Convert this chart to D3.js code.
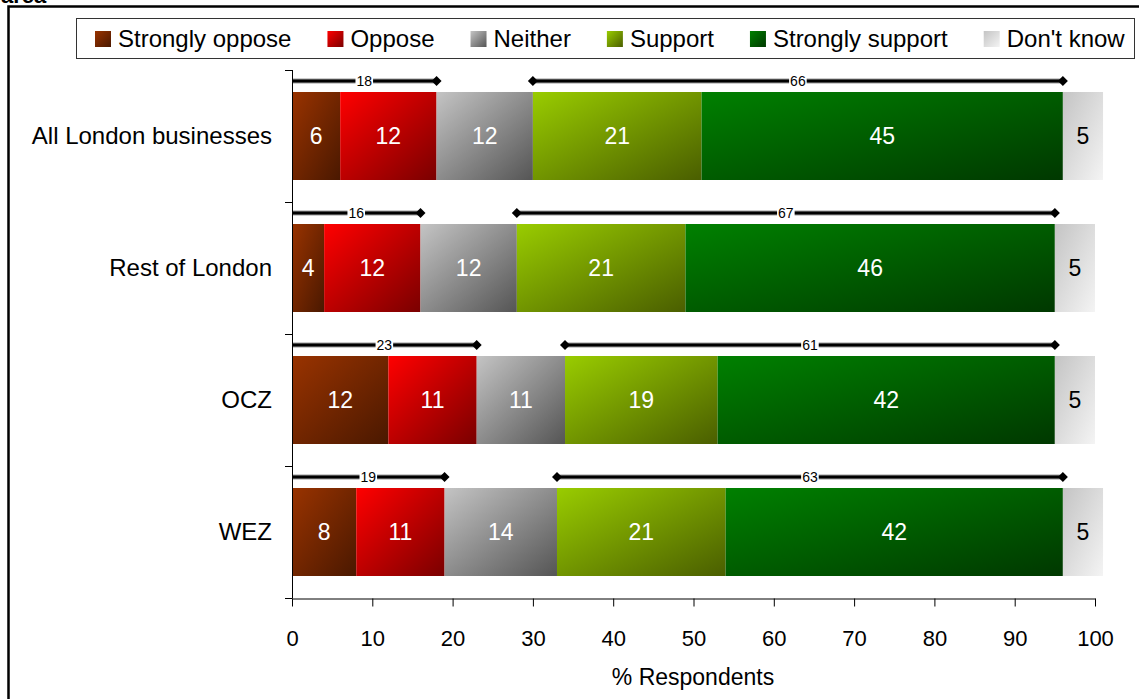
<!DOCTYPE html>
<html>
<head>
<meta charset="utf-8">
<script src="https://cdn.jsdelivr.net/npm/d3@7"></script>
<style>
  html, body { margin: 0; padding: 0; background: #fff; }
  svg { display: block; font-family: Arial, "Liberation Sans", sans-serif; }
</style>
</head>
<body>
<svg id="chart" width="1139" height="699"></svg>
<script>
// Categories (rows), top to bottom
const categories = ["All London businesses", "Rest of London", "OCZ", "WEZ"];
const seriesNames = ["Strongly oppose", "Oppose", "Neither", "Support", "Strongly support", "Don't know"];

// Percent of respondents per answer, one value per category
const stronglyOppose  = [6, 4, 12, 8];
const oppose          = [12, 12, 11, 11];
const neither         = [12, 12, 11, 14];
const support         = [21, 21, 19, 21];
const stronglySupport = [45, 46, 42, 42];
const dontKnow        = [5, 5, 5, 5];

// Net oppose / net support totals shown above each bar
const opposeTotals  = [18, 16, 23, 19];
const supportTotals = [66, 67, 61, 63];

const xTicks = [0, 10, 20, 30, 40, 50, 60, 70, 80, 90, 100];

const seriesValues = [stronglyOppose, oppose, neither, support, stronglySupport, dontKnow];
// Diagonal gradients: light top-left to dark bottom-right
const gradStops = [
  ["#993300", "#4a1800"],
  ["#ff0000", "#7a0000"],
  ["#c4c4c4", "#555555"],
  ["#99cc00", "#4a5e00"],
  ["#008000", "#003800"],
  ["#c4c4c4", "#f4f4f4"]
];
const labelColors = ["#fff", "#fff", "#fff", "#fff", "#fff", "#000"];

const svg = d3.select("#chart");
const defs = svg.append("defs");
gradStops.forEach((c, i) => {
  const g = defs.append("linearGradient").attr("id", "grad" + i)
    .attr("x1", 0).attr("y1", 0).attr("x2", 1).attr("y2", 1);
  g.append("stop").attr("offset", "0%").attr("stop-color", c[0]);
  g.append("stop").attr("offset", "100%").attr("stop-color", c[1]);
});

// Title line running off the top edge, and outer frame
svg.append("text").attr("x", 1).attr("y", 3)
  .attr("font-size", 22).attr("font-weight", "bold").attr("fill", "#000").text("area");
svg.append("rect").attr("x", 8.5).attr("y", 6.5).attr("width", 1150).attr("height", 720)
  .attr("fill", "none").attr("stroke", "#000").attr("stroke-width", 2.5);

// Scales
const x = d3.scaleLinear().domain([0, 100]).range([292, 1095]);
const y = d3.scaleBand().domain(categories).range([70, 598])
  .paddingInner(1 / 3).paddingOuter(1 / 6);

// Legend
const legend = svg.append("g");
legend.append("rect").attr("x", 76.5).attr("y", 18.5).attr("width", 1058).attr("height", 40)
  .attr("fill", "#fff").attr("stroke", "#333").attr("stroke-width", 1);
let lx = 95;
seriesNames.forEach((name, i) => {
  legend.append("rect").attr("x", lx).attr("y", 31).attr("width", 16).attr("height", 16)
    .attr("fill", `url(#grad${i})`);
  const t = legend.append("text").attr("x", lx + 23).attr("y", 47)
    .attr("font-size", 24).attr("fill", "#000").text(name);
  lx += 23 + t.node().getComputedTextLength() + 36;
});

// Stacked segments
const rows = categories.map((cat, r) => {
  let acc = 0;
  const segs = seriesValues.map((vals, s) => {
    const seg = { series: s, x0: acc, x1: acc + vals[r], value: vals[r] };
    acc += vals[r];
    return seg;
  });
  return { cat, r, segs };
});

const rowG = svg.append("g").selectAll("g").data(rows).join("g")
  .attr("transform", d => `translate(0,${y(d.cat)})`);

rowG.selectAll("rect").data(d => d.segs).join("rect")
  .attr("x", d => x(d.x0))
  .attr("y", 0)
  .attr("width", d => x(d.x1) - x(d.x0))
  .attr("height", y.bandwidth())
  .attr("fill", d => `url(#grad${d.series})`);

rowG.selectAll("text.val").data(d => d.segs).join("text")
  .attr("class", "val")
  .attr("x", d => (x(d.x0) + x(d.x1)) / 2)
  .attr("y", y.bandwidth() / 2 + 8)
  .attr("text-anchor", "middle")
  .attr("font-size", 23)
  .attr("fill", d => labelColors[d.series])
  .text(d => d.value);

// Net oppose / net support brackets
function bracket(g, xa, xb, label, startMarker) {
  const by = -11;
  const b = g.append("g");
  b.append("line").attr("x1", xa).attr("x2", xb).attr("y1", by).attr("y2", by)
    .attr("stroke", "#9a9a9a").attr("stroke-width", 5);
  b.append("line").attr("x1", xa).attr("x2", xb).attr("y1", by).attr("y2", by)
    .attr("stroke", "#000").attr("stroke-width", 3);
  const ends = startMarker ? [xa, xb] : [xb];
  ends.forEach(px => {
    b.append("path").attr("d", `M${px - 5},${by}L${px},${by - 5}L${px + 5},${by}L${px},${by + 5}Z`)
      .attr("fill", "#000");
  });
  const bg = b.append("rect").attr("fill", "#fff");
  const t = b.append("text").attr("x", (xa + xb) / 2).attr("y", by + 5)
    .attr("text-anchor", "middle").attr("font-size", 14).attr("fill", "#000").text(label);
  const w = t.node().getComputedTextLength();
  bg.attr("x", (xa + xb) / 2 - w / 2 - 1).attr("y", by - 6)
    .attr("width", w + 2).attr("height", 12);
}
rowG.each(function (d) {
  const g = d3.select(this);
  bracket(g, x(0), x(opposeTotals[d.r]), opposeTotals[d.r], false);
  const s0 = d.segs[3].x0;
  bracket(g, x(s0), x(s0 + supportTotals[d.r]), supportTotals[d.r], true);
});

// Category axis (line with ticks between bands)
const yAxis = svg.append("g").attr("stroke", "#000").attr("stroke-width", 1);
yAxis.append("line").attr("x1", 292.5).attr("x2", 292.5).attr("y1", 70).attr("y2", 598);
const boundaries = categories.map(c => y(c) - y.step() * y.paddingInner() / 2)
  .concat([y(categories[categories.length - 1]) + y.bandwidth() + y.step() * y.paddingInner() / 2]);
boundaries.forEach(b => {
  yAxis.append("line").attr("x1", 285).attr("x2", 292.5)
    .attr("y1", Math.round(b) + 0.5).attr("y2", Math.round(b) + 0.5);
});
svg.append("g").selectAll("text").data(categories).join("text")
  .attr("x", 272)
  .attr("y", d => y(d) + y.bandwidth() / 2 + 8)
  .attr("text-anchor", "end")
  .attr("font-size", 24)
  .attr("fill", "#000")
  .text(d => d);

// Value axis
const xAxis = svg.append("g").attr("transform", "translate(0,598.5)")
  .call(d3.axisBottom(x).tickValues(xTicks).tickSize(8).tickSizeOuter(0));
xAxis.select(".domain").attr("stroke", "#000");
xAxis.selectAll(".tick line").attr("stroke", "#000");
xAxis.selectAll(".tick text")
  .attr("y", 47).attr("dy", 0)
  .attr("font-size", 22).attr("font-family", "Arial, 'Liberation Sans', sans-serif")
  .attr("fill", "#000");

svg.append("text").attr("x", 693).attr("y", 685)
  .attr("text-anchor", "middle").attr("font-size", 23).attr("fill", "#000")
  .text("% Respondents");
</script>
</body>
</html>
